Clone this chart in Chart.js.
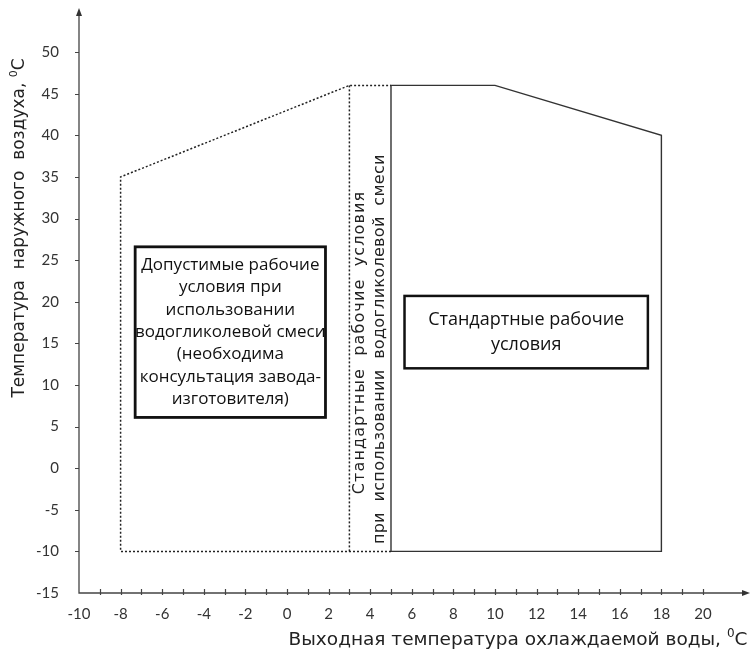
<!DOCTYPE html>
<html lang="ru">
<head>
<meta charset="UTF-8">
<title>Рабочий диапазон</title>
<script src="https://cdn.jsdelivr.net/npm/chart.js"></script>
<style>
  html, body { margin: 0; padding: 0; background: #fff; }
  #wrap { width: 754px; height: 661px; }
</style>
</head>
<body>
<div id="wrap"><canvas id="chart" width="754" height="661"></canvas></div>
<script>
// tick labels
const xTicks = [-10, -8, -6, -4, -2, 0, 2, 4, 6, 8, 10, 12, 14, 16, 18, 20];
const yTicks = [-15, -10, -5, 0, 5, 10, 15, 20, 25, 30, 35, 40, 45, 50];

// dotted outline - glycol mix region
const glycolX = [5, -8, -8, 3, 5];
const glycolY = [-10, -10, 35, 46, 46];
const dividerX = [3, 3];
const dividerY = [46, -10];

// solid outline - standard conditions
const standardX = [5, 5, 10, 18, 18, 5];
const standardY = [-10, 46, 46, 40, -10, -10];

const xTitle = 'Выходная температура охлаждаемой воды, ';
const yTitle = 'Температура  наружного  воздуха, ';
const glycolNote = ['Допустимые рабочие', 'условия при', 'использовании', 'водогликолевой смеси',
  '(необходима', 'консультация завода-', 'изготовителя)'];
const standardNote = ['Стандартные рабочие', 'условия'];
const stripNote = ['Стандартные  рабочие  условия', 'при  использовании  водогликолевой  смеси'];

// where the note boxes sit, in axis units
const glycolBox = { x0: -7.3, x1: 1.85, y0: 26.6, y1: 6.1 };
const standardBox = { x0: 5.65, x1: 17.35, y0: 20.7, y1: 12.0 };
const stripPos = [{ x: 3.5, y: 15.1 }, { x: 4.45, y: 14.3 }];
const stripSpacing = ['1.1px', '0.3px'];

const toPoints = (xs, ys) => xs.map((v, i) => ({ x: v, y: ys[i] }));

function titleWithDegree(ctx, text, size, cx, cy) {
  ctx.font = size + 'px "DejaVu Sans"';
  const w1 = ctx.measureText(text).width;
  ctx.font = Math.round(size * 0.65) + 'px "DejaVu Sans"';
  const w2 = ctx.measureText('0').width;
  ctx.font = size + 'px "DejaVu Sans"';
  const w3 = ctx.measureText('C').width;
  let x0 = cx - (w1 + w2 + w3) / 2;
  const base = cy + size * 0.36;
  ctx.textAlign = 'left';
  ctx.textBaseline = 'alphabetic';
  ctx.fillText(text, x0, base);
  ctx.font = Math.round(size * 0.65) + 'px "DejaVu Sans"';
  ctx.fillText('0', x0 + w1, base - size * 0.42);
  ctx.font = size + 'px "DejaVu Sans"';
  ctx.fillText('C', x0 + w1 + w2, base);
}

function noteBox(ctx, x, y, box, lines, size, lineH, lw) {
  const l = x.getPixelForValue(box.x0), r = x.getPixelForValue(box.x1);
  const t = y.getPixelForValue(box.y0), b = y.getPixelForValue(box.y1);
  ctx.fillStyle = '#fff';
  ctx.fillRect(l, t, r - l, b - t);
  ctx.strokeStyle = '#111';
  ctx.lineWidth = lw;
  ctx.setLineDash([]);
  ctx.strokeRect(l, t, r - l, b - t);
  ctx.fillStyle = '#111';
  ctx.font = size + 'px "Open Sans"';
  ctx.textAlign = 'center';
  ctx.textBaseline = 'middle';
  const cx = (l + r) / 2, cy = (t + b) / 2;
  lines.forEach((s, i) => {
    ctx.fillText(s, cx, cy + (i - (lines.length - 1) / 2) * lineH);
  });
}

const decor = {
  id: 'decor',
  afterDraw(chart) {
    const { ctx, chartArea: a, scales: { x, y } } = chart;
    ctx.save();

    // axes with arrows
    ctx.strokeStyle = '#444';
    ctx.lineWidth = 1.3;
    ctx.beginPath();
    ctx.moveTo(a.left, a.top + 4);
    ctx.lineTo(a.left, a.bottom);
    ctx.lineTo(a.right - 4, a.bottom);
    ctx.stroke();
    ctx.fillStyle = '#333';
    ctx.beginPath();
    ctx.moveTo(a.left, a.top);
    ctx.lineTo(a.left - 3, a.top + 8);
    ctx.lineTo(a.left + 3, a.top + 8);
    ctx.fill();
    ctx.beginPath();
    ctx.moveTo(a.right, a.bottom);
    ctx.lineTo(a.right - 8, a.bottom - 3);
    ctx.lineTo(a.right - 8, a.bottom + 3);
    ctx.fill();

    // tick marks
    ctx.lineWidth = 1.2;
    ctx.beginPath();
    for (let v = xTicks[0] + 1; v <= xTicks[xTicks.length - 1]; v++) {
      const px = Math.round(x.getPixelForValue(v)) + 0.5;
      ctx.moveTo(px, a.bottom - 4);
      ctx.lineTo(px, a.bottom + 2);
    }
    yTicks.slice(1).forEach(v => {
      const py = Math.round(y.getPixelForValue(v)) + 0.5;
      ctx.moveTo(a.left - 4, py);
      ctx.lineTo(a.left, py);
    });
    ctx.stroke();

    // axis titles
    ctx.fillStyle = '#222';
    titleWithDegree(ctx, xTitle, 18.5, 518, 638);
    ctx.save();
    ctx.translate(18, 228);
    ctx.rotate(-Math.PI / 2);
    titleWithDegree(ctx, yTitle, 17, 0, 0);
    ctx.restore();

    // vertical note between the two regions
    ctx.font = '16px "DejaVu Sans"';
    ctx.fillStyle = '#222';
    ctx.textAlign = 'center';
    ctx.textBaseline = 'middle';
    stripNote.forEach((s, i) => {
      ctx.save();
      ctx.letterSpacing = stripSpacing[i];
      ctx.translate(x.getPixelForValue(stripPos[i].x), y.getPixelForValue(stripPos[i].y));
      ctx.rotate(-Math.PI / 2);
      ctx.fillText(s, 0, 0);
      ctx.restore();
    });

    // note boxes
    noteBox(ctx, x, y, glycolBox, glycolNote, 17, 22.3, 2.8);
    noteBox(ctx, x, y, standardBox, standardNote, 18, 25, 2.5);

    ctx.restore();
  }
};

new Chart(document.getElementById('chart'), {
  type: 'scatter',
  data: {
    datasets: [
      {
        data: toPoints(glycolX, glycolY),
        showLine: true, borderColor: '#222', borderWidth: 1.5, borderDash: [2, 2],
        pointRadius: 0, fill: false, tension: 0
      },
      {
        data: toPoints(dividerX, dividerY),
        showLine: true, borderColor: '#222', borderWidth: 1.5, borderDash: [2, 2],
        pointRadius: 0, fill: false, tension: 0
      },
      {
        data: toPoints(standardX, standardY),
        showLine: true, borderColor: '#333', borderWidth: 1.4,
        pointRadius: 0, fill: false, tension: 0
      }
    ]
  },
  options: {
    responsive: false,
    animation: false,
    layout: { padding: { top: 8, right: 4, left: 0, bottom: 0 } },
    plugins: { legend: { display: false }, tooltip: { enabled: false } },
    scales: {
      x: {
        type: 'linear', min: -10, max: 22.26,
        grid: { display: false }, border: { display: false },
        ticks: { font: { family: 'Lato', size: 15 }, color: '#333', padding: 4, maxRotation: 0, autoSkip: false },
        afterBuildTicks: s => { s.ticks = xTicks.map(v => ({ value: v })); },
        afterFit: s => { s.height = 68; s.paddingLeft = 0; s.paddingRight = 0; }
      },
      y: {
        type: 'linear', min: -15, max: 55.3,
        grid: { display: false }, border: { display: false },
        ticks: { font: { family: 'Lato', size: 15 }, color: '#333', padding: 12, autoSkip: false },
        afterBuildTicks: s => { s.ticks = yTicks.map(v => ({ value: v })); },
        afterFit: s => { s.width = 79; s.paddingTop = 0; s.paddingBottom = 0; }
      }
    }
  },
  plugins: [decor]
});
</script>
</body>
</html>
